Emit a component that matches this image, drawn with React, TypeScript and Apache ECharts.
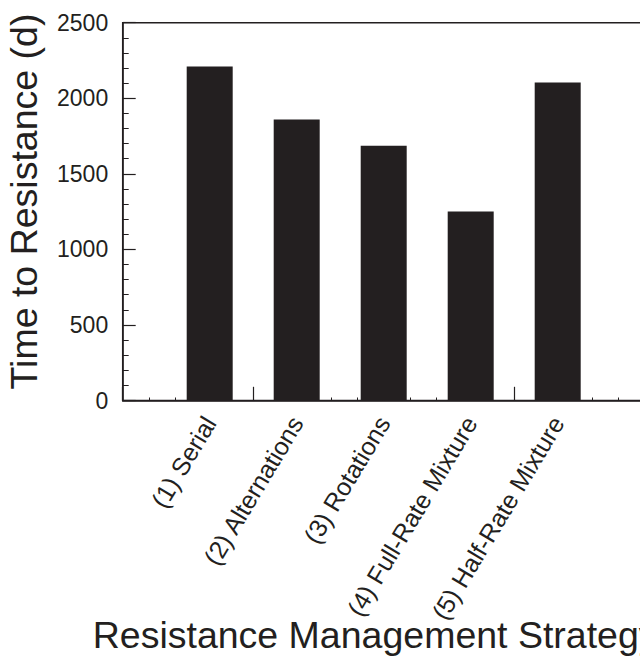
import React, { useEffect, useRef } from "react";
import * as echarts from "echarts";

const categories = [
  "(1) Serial",
  "(2) Alternations",
  "(3) Rotations",
  "(4) Full-Rate Mixture",
  "(5) Half-Rate Mixture",
];
const values = [2210, 1860, 1685, 1250, 2105];
const yMin = 0;
const yMax = 2500;
const yInterval = 500;
const yTitle = "Time to Resistance (d)";
const xTitle = "Resistance Management Strategy";

const INK = "#231f20";
const FONT = "'Liberation Sans', Arial, Helvetica, sans-serif";
const CHART_W = 740;

export default function App() {
  const ref = useRef<HTMLDivElement>(null);
  useEffect(() => {
    if (!ref.current) return;
    const chart = echarts.init(ref.current, undefined, { renderer: "svg" });
    const xMax = 7;
    chart.setOption({
      animation: false,
      backgroundColor: "#ffffff",
      grid: {
        left: 122.7,
        top: 22.7,
        bottom: 255.5,
        right: CHART_W - 122.7 - xMax * 87,
        show: true,
        borderColor: INK,
        borderWidth: 1.5,
        backgroundColor: "transparent",
      },
      xAxis: [
        {
          type: "value",
          position: "bottom",
          min: 0,
          max: xMax,
          interval: 1.5,
          axisLine: { show: true, onZero: false, lineStyle: { color: INK, width: 1.5 } },
          axisTick: { show: true, inside: true, length: 13.7, lineStyle: { color: INK, width: 1.2 } },
          minorTick: { show: true, splitNumber: 5, length: 3, lineStyle: { color: INK, width: 1 } },
          axisLabel: { show: false },
          splitLine: { show: false },
        },
        {
          type: "value",
          position: "bottom",
          min: 0,
          max: xMax,
          interval: 1,
          axisLine: { show: false, onZero: false },
          axisTick: { show: false },
          splitLine: { show: false },
          axisLabel: {
            show: true,
            rotate: 59,
            margin: 18,
            fontSize: 25,
            fontFamily: FONT,
            color: INK,
            formatter: (v: number) => categories[Math.round(v) - 1] ?? "",
          },
        },
      ],
      yAxis: {
        type: "value",
        min: yMin,
        max: yMax,
        interval: yInterval,
        axisLine: { show: true, lineStyle: { color: INK, width: 1.5 } },
        axisTick: { show: true, inside: true, length: 13, lineStyle: { color: INK, width: 1.2 } },
        minorTick: { show: true, splitNumber: 5, length: 6, lineStyle: { color: INK, width: 1 } },
        splitLine: { show: false },
        axisLabel: {
          margin: 14.5,
          fontSize: 23,
          fontFamily: FONT,
          color: INK,
          formatter: (v: number) => String(v),
        },
      },
      series: [
        {
          type: "bar",
          xAxisIndex: 0,
          barWidth: 46,
          itemStyle: { color: INK },
          data: values.map((v, i) => [i + 1, v]),
        },
      ],
      graphic: [
        {
          type: "text",
          x: 23.5,
          y: 201.5,
          rotation: Math.PI / 2,
          style: {
            text: yTitle,
            font: `37.5px ${FONT}`,
            fill: INK,
            align: "center",
            verticalAlign: "middle",
          },
        },
        {
          type: "text",
          x: 92.7,
          y: 635,
          style: {
            text: xTitle,
            font: `37.5px ${FONT}`,
            fill: INK,
            align: "left",
            verticalAlign: "middle",
          },
        },
      ],
    });
    return () => chart.dispose();
  }, []);
  return (
    <div style={{ position: "fixed", left: 0, top: 0, width: 640, height: 656, overflow: "hidden", background: "#fff" }}>
      <div ref={ref} style={{ width: CHART_W, height: 656 }} />
    </div>
  );
}
